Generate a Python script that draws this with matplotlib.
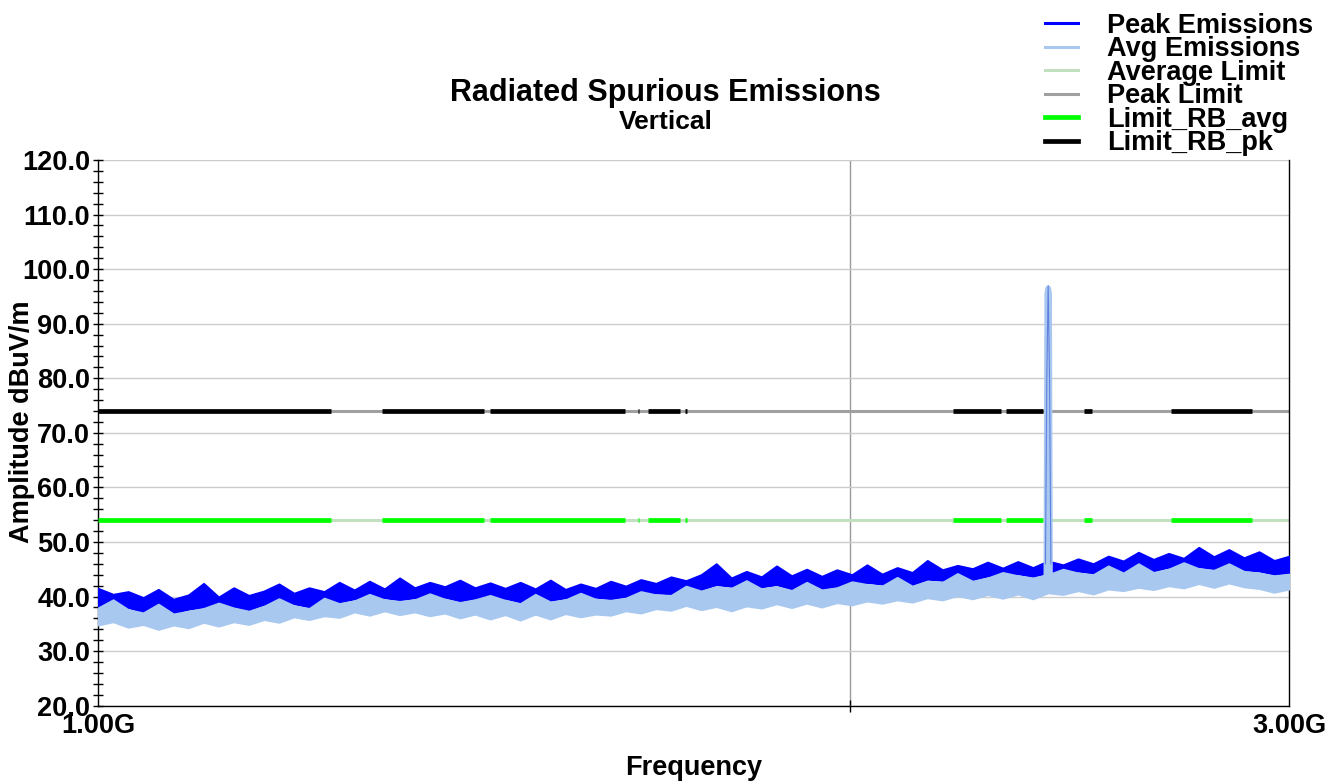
import numpy as np
import matplotlib
matplotlib.use("Agg")
import matplotlib.pyplot as plt
from matplotlib.lines import Line2D
from matplotlib.ticker import MultipleLocator, NullFormatter

plt.rcParams['font.family'] = ['Liberation Sans', 'DejaVu Sans']
plt.rcParams['font.weight'] = 'bold'

# sweep points (MHz), 80 points spread evenly on the log axis
freq = np.geomspace(1000, 3000, 80)

# peak trace band (upper / lower edge, dBuV/m)
pk_hi = [41.5, 40.4, 40.9, 39.8, 41.3, 39.5, 40.3, 42.4, 39.9, 41.6,
         40.2, 41.0, 42.3, 40.6, 41.6, 40.9, 42.6, 41.2, 42.8, 41.4,
         43.4, 41.6, 42.6, 41.8, 43.0, 41.6, 42.5, 41.5, 42.6, 41.4,
         43.0, 41.3, 42.3, 41.5, 42.8, 41.9, 43.1, 42.4, 43.6, 42.9,
         44.0, 46.0, 43.4, 44.6, 43.6, 45.6, 43.8, 45.0, 43.7, 44.9,
         44.0, 45.8, 44.1, 45.3, 44.4, 46.6, 44.9, 45.7, 45.1, 46.3,
         45.2, 46.4, 45.3, 46.5, 45.8, 46.9, 46.0, 47.4, 46.5, 48.1,
         46.8, 47.9, 47.0, 49.0, 47.3, 48.6, 47.1, 48.2, 46.6, 47.4]
pk_lo = [38.2, 37.4, 38.0, 37.2, 37.8, 37.0, 37.7, 38.1, 37.4, 38.2,
         37.6, 38.6, 38.2, 38.7, 38.1, 38.8, 39.0, 39.6, 39.0, 39.8,
         39.4, 39.8, 39.5, 39.9, 39.2, 39.7, 39.1, 39.7, 39.0, 39.6,
         39.3, 39.8, 39.4, 39.9, 39.6, 40.0, 40.0, 40.7, 40.5, 41.2,
         41.3, 42.2, 41.9, 42.3, 41.8, 42.2, 41.4, 41.8, 41.5, 41.9,
         41.8, 42.6, 42.3, 42.7, 42.2, 43.2, 43.0, 43.6, 43.1, 43.8,
         43.5, 44.2, 43.7, 44.4, 44.2, 44.7, 44.3, 45.0, 44.6, 45.0,
         44.7, 45.4, 45.0, 45.5, 45.1, 45.4, 44.9, 44.7, 44.1, 44.4]

# average trace band
av_hi = [37.9, 39.4, 37.6, 37.0, 38.6, 36.8, 37.3, 37.8, 38.8, 37.9,
         37.3, 38.2, 39.6, 38.3, 37.8, 39.7, 38.7, 39.2, 40.4, 39.4,
         39.1, 39.4, 40.5, 39.5, 38.9, 39.4, 40.2, 39.3, 38.7, 40.4,
         39.0, 39.4, 40.6, 39.5, 39.3, 39.7, 40.9, 40.3, 40.2, 41.9,
         41.0, 41.8, 41.5, 42.9, 41.4, 41.8, 41.1, 42.6, 41.2, 41.6,
         42.7, 42.2, 41.9, 43.5, 41.9, 42.8, 42.6, 44.2, 42.8, 43.4,
         44.4, 43.8, 43.4, 44.0, 45.0, 44.3, 44.0, 45.6, 44.3, 46.0,
         44.4, 45.0, 46.2, 45.1, 44.8, 46.0, 44.6, 44.3, 43.8, 44.1]
av_lo = [34.8, 35.4, 34.4, 34.9, 34.0, 34.8, 34.3, 35.3, 34.6, 35.4,
         34.9, 35.8, 35.3, 36.3, 35.8, 36.5, 36.2, 37.2, 36.6, 37.4,
         36.7, 37.2, 36.5, 37.0, 36.1, 36.8, 35.9, 36.7, 35.7, 36.8,
         35.9, 36.9, 36.3, 36.8, 36.6, 37.4, 37.0, 37.8, 37.5, 38.4,
         37.6, 38.2, 37.4, 38.3, 37.9, 38.7, 38.0, 38.8, 38.1, 38.9,
         38.5, 39.2, 38.8, 39.4, 39.0, 39.8, 39.4, 40.2, 39.6, 40.4,
         39.7, 40.5, 39.6, 40.7, 40.4, 41.1, 40.5, 41.4, 41.1, 41.7,
         41.3, 42.0, 41.6, 42.4, 41.7, 42.5, 41.8, 41.5, 40.8, 41.4]

# carrier spike near 2402 MHz
spike_f = [2396, 2399, 2402, 2405, 2408]
spike_pk = [46.0, 80.0, 97.0, 80.0, 46.0]
spike_av_f = [2397, 2399, 2401, 2403, 2405, 2407]
spike_av = [42.0, 95.5, 96.5, 96.5, 95.5, 42.0]

# limits
peak_limit = 74.0
avg_limit = 54.0
rb_start = [960, 1300, 1435, 1645.5, 1660, 1718.8, 2200, 2310, 2483.5, 2690]
rb_stop = [1240, 1427, 1626.5, 1646.5, 1710, 1722.2, 2300, 2390, 2500, 2900]

C_PK = '#0000ff'
C_AV = '#a8c8f0'
C_AVLIM = '#c0e0c0'
C_PKLIM = '#a0a0a0'
C_RBAVG = '#00ff00'
C_RBPK = '#000000'

FS = 19.5

fig = plt.figure(figsize=(13.28, 7.83), dpi=100)
ax = fig.add_axes([0.0738, 0.0987, 0.897, 0.697])

ax.set_xscale('log')
ax.set_xlim(1000, 3000)
ax.set_ylim(20, 120)

# grid
ax.yaxis.set_major_locator(MultipleLocator(10))
ax.yaxis.set_minor_locator(MultipleLocator(2))
ax.grid(axis='y', which='major', color='#cccccc', lw=1.0, zorder=0)
ax.axvline(2000, color='#999999', lw=1.0, zorder=0)

# limit lines
ax.plot([1000, 3000], [peak_limit, peak_limit], color=C_PKLIM, lw=2.2, zorder=2, solid_capstyle='butt')
ax.plot([1000, 3000], [avg_limit, avg_limit], color=C_AVLIM, lw=2.2, zorder=2, solid_capstyle='butt')
for s, e in zip(rb_start, rb_stop):
    s = max(s, 1000)
    ax.plot([s, e], [peak_limit, peak_limit], color=C_RBPK, lw=3.4, zorder=3, solid_capstyle='butt')
    ax.plot([s, e], [avg_limit, avg_limit], color=C_RBAVG, lw=3.4, zorder=3, solid_capstyle='butt')

# emissions
ax.fill_between(freq, pk_lo, pk_hi, color=C_PK, lw=1.5, edgecolor=C_PK, zorder=4)
ax.fill_between(freq, av_lo, av_hi, color=C_AV, lw=1.5, edgecolor=C_AV, zorder=5)
ax.plot(spike_av_f, spike_av, color=C_AV, lw=3.5, zorder=6)
ax.plot(spike_f, spike_pk, color='#6080e0', lw=0.8, zorder=7)

# axes styling
for side in ['left', 'bottom', 'right']:
    ax.spines[side].set_color('black')
    ax.spines[side].set_linewidth(1.0)
ax.spines['top'].set_visible(False)

ax.tick_params(axis='y', which='both', direction='inout', length=7, width=1, labelsize=FS, pad=2)
ax.set_yticks(np.arange(20, 121, 10))
ax.set_yticklabels([f"{v:.1f}" for v in np.arange(20, 121, 10)])
ax.set_xticks([1000, 3000])
ax.set_xticklabels(['1.00G', '3.00G'])
ax.set_xticks([2000], minor=True)
ax.xaxis.set_minor_formatter(NullFormatter())
ax.tick_params(axis='x', which='major', length=0, labelsize=FS, pad=5)
ax.tick_params(axis='x', which='minor', direction='inout', length=8, width=1)

fig.text(0.522, 0.019, 'Frequency', ha='center', va='center', fontsize=FS, fontweight='bold')
fig.text(0.0166, 0.461, 'Amplitude dBuV/m', ha='center', va='center', rotation=90,
         fontsize=FS, fontweight='bold')

fig.text(0.501, 0.881, 'Radiated Spurious Emissions', ha='center', va='center', fontsize=22, fontweight='bold')
fig.text(0.501, 0.844, 'Vertical', ha='center', va='center', fontsize=19, fontweight='bold')

handles = [Line2D([], [], color=C_PK, lw=2.2),
           Line2D([], [], color=C_AV, lw=2.2),
           Line2D([], [], color=C_AVLIM, lw=2.2),
           Line2D([], [], color=C_PKLIM, lw=2.2),
           Line2D([], [], color=C_RBAVG, lw=3.4),
           Line2D([], [], color=C_RBPK, lw=3.4)]
labels = ['Peak Emissions', 'Avg Emissions', 'Average Limit', 'Peak Limit',
          'Limit_RB_avg', 'Limit_RB_pk']
fig.legend(handles, labels, loc='upper right', bbox_to_anchor=(0.989, 0.984),
           frameon=False, fontsize=FS, handlelength=1.22, handletextpad=1.07,
           labelspacing=-0.09, borderpad=0.0, borderaxespad=0.0)

fig.savefig('out.png', dpi=100)
